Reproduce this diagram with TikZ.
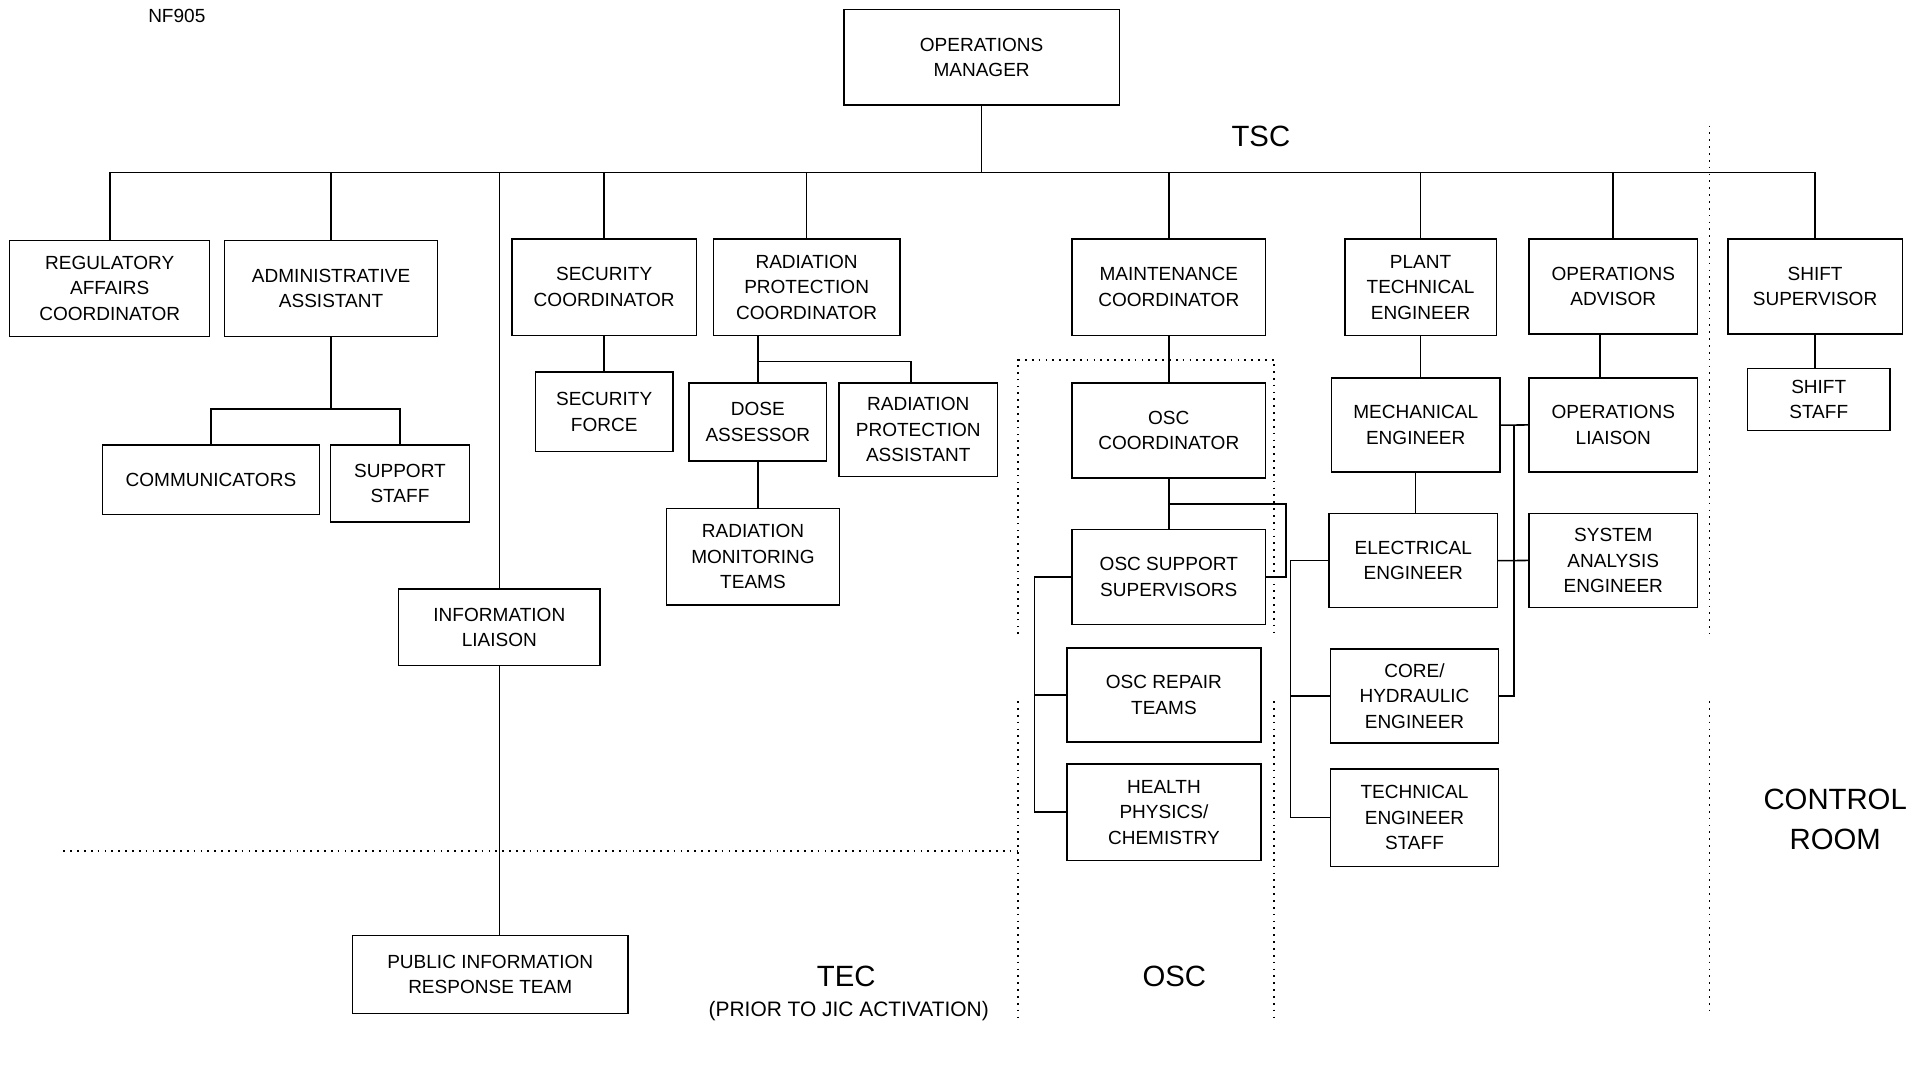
\documentclass[tikz,border=0pt]{standalone}
\usepackage{fontspec}
\setmainfont{Liberation Sans}
\usetikzlibrary{positioning,calc}
\newcommand{\boxfont}{\fontsize{11.1}{14.9}\selectfont}
\newcommand{\areafont}{\fontsize{17.1}{22.8}\selectfont}
\tikzset{link/.style = {line width=0.9pt}}

\begin{document}
\begin{tikzpicture}[x=0.25mm, y=-0.25mm]
  % styles
  \tikzstyle{post} = [rectangle, draw, line width=0.8pt, align=center, inner sep=0pt, font=\boxfont]
  \tikzstyle{area} = [align=center, font=\areafont]
  \tikzstyle{border} = [line width=1pt, dash pattern=on 1pt off 3pt]

  \useasboundingbox (0,0) rectangle (1568,877);

  \node[font=\boxfont] (code) at (145,13) {NF905};

  % vertices
  \node[post, minimum width=56.5mm, minimum height=19.5mm] (om) at (805,47) {OPERATIONS\\MANAGER};

  \node[post, minimum width=41mm, minimum height=19.75mm] (reg) at (90,236.5) {REGULATORY\\AFFAIRS\\COORDINATOR};
  \node[post, minimum width=43.75mm, minimum height=19.75mm] (admin) at (271.5,236.5) {ADMINISTRATIVE\\ASSISTANT};
  \node[post, minimum width=37.75mm, minimum height=19.75mm] (seccoord) at (495.5,235.5) {SECURITY\\COORDINATOR};
  \node[post, minimum width=38.25mm, minimum height=19.75mm] (rpc) at (661.5,235.5) {RADIATION\\PROTECTION\\COORDINATOR};
  \node[post, minimum width=39.75mm, minimum height=19.75mm] (maint) at (958.5,235.5) {MAINTENANCE\\COORDINATOR};
  \node[post, minimum width=31mm, minimum height=19.75mm] (pte) at (1165,235.5) {PLANT\\TECHNICAL\\ENGINEER};
  \node[post, minimum width=34.5mm, minimum height=19.5mm] (opsadv) at (1323,235) {OPERATIONS\\ADVISOR};
  \node[post, minimum width=35.75mm, minimum height=19.5mm] (shiftsup) at (1488.5,235) {SHIFT\\SUPERVISOR};

  \node[post, minimum width=44.5mm, minimum height=14.25mm] (comm) at (173,393.5) {COMMUNICATORS};
  \node[post, minimum width=28.5mm, minimum height=15.75mm] (support) at (328,396.5) {SUPPORT\\STAFF};
  \node[post, minimum width=28.25mm, minimum height=16.25mm, below=7.25mm of seccoord] (secforce) {SECURITY\\FORCE};
  \node[post, minimum width=28.25mm, minimum height=16mm] (dose) at (621.5,346) {DOSE\\ASSESSOR};
  \node[post, minimum width=32.5mm, minimum height=19.25mm] (rpa) at (753,352.5) {RADIATION\\PROTECTION\\ASSISTANT};
  \node[post, minimum width=35.5mm, minimum height=19.75mm, below=9.5mm of dose, xshift=-1mm] (rmt) {RADIATION\\MONITORING\\TEAMS};
  \node[post, minimum width=41.25mm, minimum height=15.75mm] (infol) at (409.5,514.5) {INFORMATION\\LIAISON};
  \node[post, minimum width=56.5mm, minimum height=16mm] (pirt) at (402,799) {PUBLIC INFORMATION\\RESPONSE TEAM};

  \node[post, minimum width=39.75mm, minimum height=19.5mm, below=9.5mm of maint] (osccoord) {OSC\\COORDINATOR};
  \node[post, minimum width=39.75mm, minimum height=19.5mm, below=10.25mm of osccoord] (oscsup) {OSC SUPPORT\\SUPERVISORS};
  \node[post, minimum width=39.75mm, minimum height=19.25mm, below=4.5mm of oscsup, xshift=-1mm] (oscrep) {OSC REPAIR\\TEAMS};
  \node[post, minimum width=39.75mm, minimum height=19.75mm, below=4.25mm of oscrep] (health) {HEALTH\\PHYSICS/\\CHEMISTRY};

  \node[post, minimum width=34.5mm, minimum height=19.25mm, below=8.5mm of pte, xshift=-1mm] (mech) {MECHANICAL\\ENGINEER};
  \node[post, minimum width=34.5mm, minimum height=19.25mm, below=8.25mm of mech, xshift=-0.5mm] (elec) {ELECTRICAL\\ENGINEER};
  \node[post, minimum width=34.5mm, minimum height=19.25mm, below=8.25mm of elec, xshift=0.25mm] (core) {CORE/\\HYDRAULIC\\ENGINEER};
  \node[post, minimum width=34.5mm, minimum height=20mm, below=5mm of core] (techstaff) {TECHNICAL\\ENGINEER\\STAFF};
  \node[post, minimum width=34.5mm, minimum height=19.25mm] (opsl) at (1323,348.5) {OPERATIONS\\LIAISON};
  \node[post, minimum width=34.5mm, minimum height=19.25mm, below=8.25mm of opsl] (sysan) {SYSTEM\\ANALYSIS\\ENGINEER};
  \node[post, minimum width=29.25mm, minimum height=12.75mm, below=6.75mm of shiftsup, xshift=0.75mm] (shiftstaff) {SHIFT\\STAFF};

  % areas
  \node[area] (tsc) at (1034,112) {TSC};
  \node[area] (tec) at (694,801) {TEC};
  \node[font=\fontsize{12.2}{15}\selectfont] (tecnote) at (696,829) {(PRIOR TO JIC ACTIVATION)};
  \node[area] (osc) at (963,801) {OSC};
  \node[area] (cr) at (1505,672) {CONTROL\\ROOM};

  \draw[border] (52,698) -- (835,698);
  \draw[border] (835,520) -- (835,295) -- (1045,295) -- (1045,520);
  \draw[border] (835,575) -- (835,835);
  \draw[border] (1045,575) -- (1045,835);
  \draw[border] (1402,103) -- (1402,520);
  \draw[border] (1402,575) -- (1402,833);

  % edges
  \coordinate (bus) at ($(om.south)+(0,55)$);
  \draw[link] (om.south) -- (bus);
  \draw[link] (reg.north) |- (bus) -| (shiftsup.north);
  \foreach \n in {admin, seccoord, rpc, maint, pte, opsadv, infol}
    \draw[link] (\n.north) -- (\n.north |- bus);

  \coordinate (adminfork) at ($(admin.south)+(0,59)$);
  \draw[link] (admin.south) -- (adminfork);
  \draw[link] (comm.north) |- (adminfork) -| (support.north);

  \draw[link] (seccoord.south) -- (seccoord.south |- secforce.north);

  \coordinate (rpcfork) at ($(dose.north)+(0,-17)$);
  \draw[link] (rpc.south -| rpcfork) -- (dose.north);
  \draw[link] (rpcfork) -| ($(rpa.north)+(-6,0)$);
  \draw[link] (dose.south) -- (dose.south |- rmt.north);

  \draw[link] (infol.south) -- (infol.south |- pirt.north);

  \draw[link] (maint.south) -- (osccoord.north);
  \draw[link] (osccoord.south) -- (oscsup.north);
  \coordinate (oscfork) at ($(osccoord.south)!0.5!(oscsup.north)$);
  \draw[link] (oscfork) -| ($(oscsup.east)+(16,0)$) -- (oscsup.east);
  \coordinate (oscbus) at ($(oscsup.west)+(-30,0)$);
  \draw[link] (oscsup.west) -- (oscbus) |- (health.west);
  \draw[link] (oscbus |- oscrep.west) -- (oscrep.west);

  \draw[link] (pte.south) -- (pte.south |- mech.north);
  \draw[link] (mech.south) -- (mech.south |- elec.north);
  \coordinate (elecbus) at ($(elec.west)+(-31,0)$);
  \draw[link] (elec.west) -- (elecbus) |- (techstaff.west);
  \draw[link] (elecbus |- core.west) -- (core.west);

  \coordinate (mechbus) at ($(mech.east)+(11,0)$);
  \draw[link] (mech.east) -- (opsl.west);
  \draw[link] (mechbus) |- (core.east);
  \draw[link] (elec.east) -- (sysan.west);

  \draw[link] ($(opsadv.south)+(-11,0)$) -- ($(opsl.north)+(-11,0)$);
  \draw[link] (shiftsup.south) -- (shiftsup.south |- shiftstaff.north);
\end{tikzpicture}
\end{document}
